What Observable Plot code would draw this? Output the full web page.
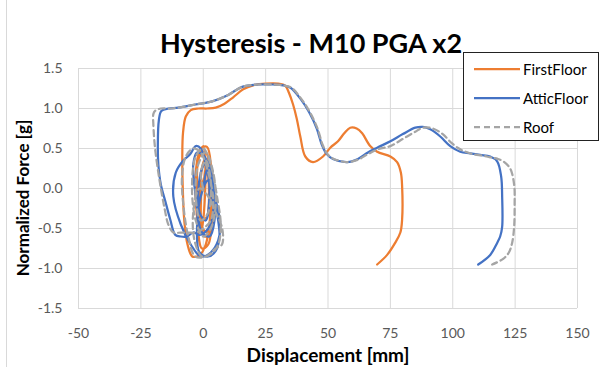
<!DOCTYPE html>
<html>
<head>
<meta charset="utf-8">
<script src="https://cdn.jsdelivr.net/npm/d3@7"></script>
<script src="https://cdn.jsdelivr.net/npm/@observablehq/plot@0.6"></script>
<style>
  html, body { margin: 0; padding: 0; background: #fff; }
  #wrap { position: relative; width: 613px; height: 367px; overflow: hidden; font-family: Lato, "Open Sans", sans-serif; }
  #chart { position: absolute; left: 0; top: 0; }
  .lbl { position: absolute; font-weight: bold; color: #000; white-space: nowrap; }
  #title { left: 311px; top: 42px; transform: translate(-50%, -50%); font-size: 27px; }
  #xlab { left: 328px; top: 354px; transform: translate(-50%, -50%); font-size: 19px; }
  #ylab { left: 22px; top: 198px; transform: translate(-50%, -50%) rotate(-90deg); font-size: 17px; }
  #border { position: absolute; left: 6px; top: 0; width: 1px; height: 367px; background: #d9d9d9; }
  #legend { position: absolute; left: 463px; top: 52px; width: 136px; height: 89px; border: 1px solid #222; background: #fff; box-sizing: border-box; }
  .item { position: absolute; left: 10px; height: 20px; display: flex; align-items: center; font-size: 15px; color: #000; }
  .item svg { margin-right: 3px; }
</style>
</head>
<body>
<div id="wrap">
  <div id="border"></div>
  <div id="chart"></div>
  <div id="title" class="lbl">Hysteresis - M10 PGA x2</div>
  <div id="xlab" class="lbl">Displacement [mm]</div>
  <div id="ylab" class="lbl">Normalized Force [g]</div>
  <div id="legend"></div>
</div>
<script>
// ---- Data ----
const seriesNames = ["FirstFloor", "AtticFloor", "Roof"];
const seriesColors = ["#ED7D31", "#4472C4", "#A5A5A5"];

const xTicks = [-50, -25, 0, 25, 50, 75, 100, 125, 150];
const yTicks = [-1.5, -1.0, -0.5, 0.0, 0.5, 1.0, 1.5];

const firstX = [0, 1.2, 2.2, 1.5, -0.5, -1.2, 0.5, 2.5, 3, 1.5,
  -1, -2.5, -1.5, 1, 2.8, 3.5, 2, -0.5, -2.5, -3,
  -1, 1.5, 3.2, 3.8, 2.5, 0.5, -1.5, -2.8, -2, 0,
  0.8, 0.5, -0.5, -1, 0, 2, 3, 2.5, 1, -1,
  -2.5, -4.4, -6.3, -7.6, -8.2, -8.4, -8.1, -7, -5, -2,
  1.5, 5, 8.5, 12, 16, 20, 25, 30, 33, 34.3,
  36, 37.5, 38.9, 40.9, 44, 48, 50.9, 54, 56.5, 58.9,
  61.5, 63.7, 66.9, 69.7, 75, 77.7, 79.2, 79.7, 79.7, 79,
  76.9, 73.7, 69.7];
const firstY = [0, 0.3, 0.05, -0.35, -0.4, 0.05, 0.35, 0.25, -0.2, -0.55,
  -0.45, 0, 0.4, 0.45, 0.15, -0.35, -0.7, -0.75, -0.35, 0.2,
  0.5, 0.52, 0.25, -0.2, -0.55, -0.6, -0.3, 0.05, 0.35, 0.53,
  0.3, -0.2, -0.5, -0.3, 0.1, 0.2, -0.1, -0.45, -0.7, -0.82,
  -0.85, -0.85, -0.7, -0.4, 0, 0.4, 0.7, 0.9, 0.98, 1.0,
  1.0, 1.01, 1.06, 1.14, 1.24, 1.29, 1.31, 1.31, 1.28, 1.2,
  1.05, 0.87, 0.65, 0.4, 0.33, 0.4, 0.51, 0.59, 0.69, 0.76,
  0.75, 0.69, 0.53, 0.46, 0.4, 0.33, 0.2, 0.03, -0.39, -0.55,
  -0.68, -0.83, -0.95];

const atticX = [0, 1.5, 2.5, 1, -1.5, -1, 1.5, 4, 4.5, 2.5,
  -0.5, -3, -4, -2.5, 0.5, 3.5, 5.5, 6.5, 5, 2,
  -1.5, -2.5, -1, 2, 5, 6.8, 6, 3, -1, -5,
  -9, -12, -11, -8, -5.2, -3, -1, 1, 3, 4,
  2, -1.5, -4, -6.5, -9, -11.2, -13.2, -15.2, -17, -18,
  -18.2, -17.8, -16.8, -14, -10, -3.2, 3.6, 10, 15.6, 22,
  28, 32, 35, 39, 42.5, 45.5, 47.5, 49.5, 52, 57.7,
  62, 66, 69.7, 75, 80, 85, 88, 91, 95, 99,
  103, 107, 111, 115, 117.8, 119.4, 119.8, 119.8, 119, 117.8,
  115, 110.2];
const atticY = [0, 0.25, -0.05, -0.4, -0.3, 0.2, 0.35, 0.05, -0.4, -0.6,
  -0.55, -0.1, 0.3, 0.45, 0.4, 0.1, -0.3, -0.6, -0.78, -0.85,
  -0.8, -0.5, -0.1, 0.1, -0.15, -0.45, -0.65, -0.8, -0.85, -0.7,
  -0.45, -0.1, 0.2, 0.35, 0.43, 0.53, 0.5, 0.3, 0, -0.3,
  -0.5, -0.58, -0.55, -0.6, -0.6, -0.58, -0.39, -0.16, 0.05, 0.3,
  0.55, 0.85, 0.97, 1.0, 1.01, 1.05, 1.09, 1.17, 1.27, 1.3,
  1.3, 1.29, 1.26, 1.12, 0.95, 0.75, 0.55, 0.43, 0.37, 0.33,
  0.37, 0.45, 0.51, 0.59, 0.68, 0.76, 0.77, 0.74, 0.65, 0.53,
  0.46, 0.44, 0.42, 0.4, 0.34, 0.15, -0.1, -0.48, -0.6, -0.68,
  -0.83, -0.95];

const roofX = [0, -1, 1, 3, 2, -1, -3, -2, 1, 4,
  5, 3, 0, -3, -4.5, -3, 0, 3, 5.5, 7,
  6, 3, -0.5, -3.5, -4, -1.5, 2, 5, 7.6, 7.5,
  5, 1, -3.2, -6, -8, -8.5, -7, -4, -1, 2,
  4, 3, 0, -3, -6, -9, -12, -14, -15.5, -17.5,
  -19.3, -20, -20, -19.3, -17, -13, -10, -3.2, 3.6, 10,
  15.6, 22, 28, 32, 35.3, 39.3, 42.8, 45.8, 47.8, 49.8,
  52.3, 57.7, 62, 66, 70, 75, 80, 85, 88, 92,
  96, 99.5, 103, 108, 112, 115, 118, 120.2, 123, 124.6,
  124.8, 124.6, 123.8, 122.5, 120.2, 115.8];
const roofY = [0, 0.2, 0.35, 0.1, -0.3, -0.4, -0.1, 0.3, 0.45, 0.2,
  -0.2, -0.5, -0.6, -0.4, 0, 0.4, 0.5, 0.3, -0.1, -0.45,
  -0.7, -0.82, -0.85, -0.65, -0.3, 0, -0.1, -0.3, -0.5, -0.7,
  -0.75, -0.85, -0.85, -0.6, -0.2, 0.15, 0.4, 0.5, 0.45, 0.2,
  -0.15, -0.4, -0.5, -0.55, -0.55, -0.55, -0.55, -0.45, -0.25, 0.1,
  0.5, 0.8, 0.93, 0.97, 1.0, 1.0, 1.01, 1.05, 1.09, 1.17,
  1.27, 1.3, 1.3, 1.29, 1.26, 1.12, 0.95, 0.75, 0.55, 0.43,
  0.37, 0.33, 0.36, 0.43, 0.49, 0.53, 0.62, 0.71, 0.76, 0.75,
  0.68, 0.57, 0.49, 0.43, 0.41, 0.39, 0.37, 0.34, 0.25, 0.05,
  -0.2, -0.48, -0.68, -0.8, -0.88, -0.95];

// ---- Build tables ----
const toRows = (xs, ys) => xs.map((x, i) => ({x, y: ys[i]}));
const first = toRows(firstX, firstY);
const attic = toRows(atticX, atticY);
const roof = toRows(roofX, roofY);

const chart = Plot.plot({
  width: 613,
  height: 367,
  marginLeft: 78,
  marginRight: 36,
  marginTop: 68,
  marginBottom: 59,
  style: { fontFamily: "Lato, 'Open Sans', sans-serif", fontSize: "14px", color: "#595959", background: "transparent" },
  x: { domain: [-50, 150], label: null },
  y: { domain: [-1.5, 1.5], label: null },
  marks: [
    Plot.gridX(xTicks, { stroke: "#d9d9d9", strokeOpacity: 1, strokeWidth: 1 }),
    Plot.gridY(yTicks, { stroke: "#d9d9d9", strokeOpacity: 1, strokeWidth: 1 }),
    Plot.axisX(xTicks, { tickSize: 0, tickPadding: 20, tickFormat: d => String(d), fontSize: 14 }),
    Plot.axisY(yTicks, { tickSize: 0, tickPadding: 16, tickFormat: d => d.toFixed(1), fontSize: 14 }),
    Plot.line(first, { x: "x", y: "y", stroke: seriesColors[0], strokeWidth: 2.25, curve: "catmull-rom" }),
    Plot.line(attic, { x: "x", y: "y", stroke: seriesColors[1], strokeWidth: 2.25, curve: "catmull-rom" }),
    Plot.line(roof, { x: "x", y: "y", stroke: seriesColors[2], strokeWidth: 2.25, strokeDasharray: "6,4", curve: "catmull-rom" })
  ]
});
document.getElementById("chart").appendChild(chart);

// ---- Legend ----
const legend = document.getElementById("legend");
const legendTops = [6, 35, 64];
seriesNames.forEach((name, i) => {
  const item = document.createElement("div");
  item.className = "item";
  item.style.top = legendTops[i] + "px";
  const dash = i === 2 ? ' stroke-dasharray="6,4"' : '';
  item.innerHTML = `<svg width="46" height="6"><line x1="0" y1="3" x2="46" y2="3" stroke="${seriesColors[i]}" stroke-width="2.25"${dash}/></svg><span>${name}</span>`;
  legend.appendChild(item);
});
</script>
</body>
</html>
